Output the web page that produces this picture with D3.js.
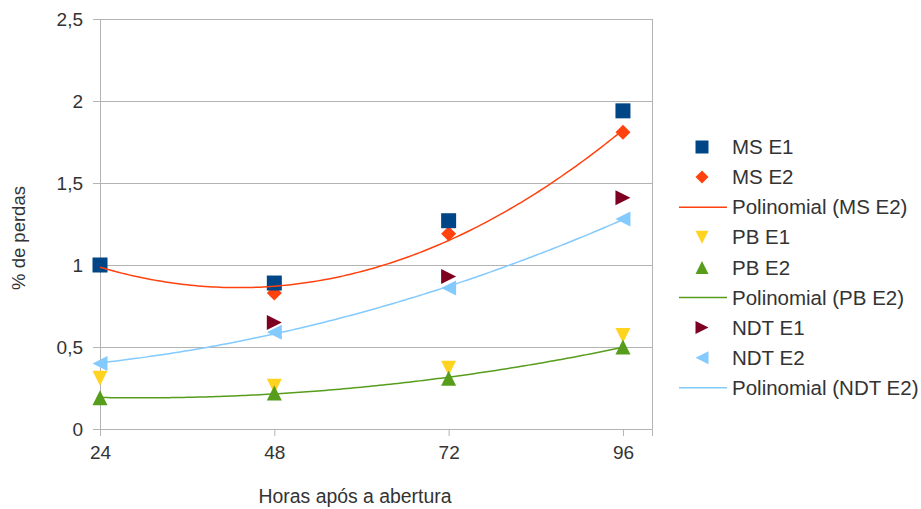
<!DOCTYPE html>
<html>
<head>
<meta charset="utf-8">
<script src="https://cdn.jsdelivr.net/npm/d3@7"></script>
<style>
  html, body { margin: 0; padding: 0; background: #fff; }
  svg { display: block; font-family: "Liberation Sans", Arial, sans-serif; }
</style>
</head>
<body>
<svg id="chart" width="921" height="509"></svg>
<script>
// Hours after opening (x values)
const hours = [24, 48, 72, 96];
const xTicks = [24, 48, 72, 96];
const yTicks = [0, 0.5, 1, 1.5, 2, 2.5];

// % losses per series (null = no measurement)
const msE1  = [1.00, 0.89, 1.27, 1.94];
const msE2  = [1.00, 0.83, 1.19, 1.81];
const pbE1  = [0.31, 0.26, 0.37, 0.57];
const pbE2  = [0.19, 0.22, 0.31, 0.50];
const ndtE1 = [null, 0.65, 0.93, 1.41];
const ndtE2 = [0.40, 0.59, 0.86, 1.28];

const seriesNames = ["MS E1", "MS E2", "PB E1", "PB E2", "NDT E1", "NDT E2"];
const seriesValues = [msE1, msE2, pbE1, pbE2, ndtE1, ndtE2];
const seriesShapes = ["square", "diamond", "down", "up", "right", "left"];
const seriesColors = ["#004586", "#ff420e", "#ffd320", "#579d1c", "#7e0021", "#83caff"];
// Painting order of the point series (MS E1 sits above MS E2)
const drawOrder = [1, 0, 2, 3, 4, 5];

// Second-order polynomial trend lines fitted to the E2 series
const trendSeries = [1, 3, 5];
const trendLabels = ["Polinomial (MS E2)", "Polinomial (PB E2)", "Polinomial (NDT E2)"];

const svg = d3.select("#chart");
const plot = { left: 100, right: 652, top: 19, bottom: 429 };

const x = d3.scaleLinear().domain([24, 100]).range([plot.left, plot.right]);
const y = d3.scaleLinear().domain([0, 2.5]).range([plot.bottom, plot.top]);

const ptBR = d3.formatLocale({ decimal: ",", thousands: ".", grouping: [3], currency: ["", ""] });
const fmt = ptBR.format("~g");

const gridColor = "#b3b3b3";
const textColor = "#333333";

// Horizontal gridlines
svg.append("g")
  .selectAll("line")
  .data(yTicks)
  .join("line")
  .attr("x1", plot.left).attr("x2", plot.right)
  .attr("y1", d => y(d)).attr("y2", d => y(d))
  .attr("stroke", gridColor).attr("stroke-width", 1)
  .attr("shape-rendering", "crispEdges");

// Right border of the plot area
svg.append("line")
  .attr("x1", plot.right).attr("x2", plot.right)
  .attr("y1", plot.top).attr("y2", plot.bottom)
  .attr("stroke", gridColor).attr("shape-rendering", "crispEdges");

// Y axis
const yAxis = svg.append("g")
  .attr("transform", `translate(${plot.left},0)`)
  .call(d3.axisLeft(y).tickValues(yTicks).tickFormat(fmt).tickSize(7).tickPadding(10));
yAxis.select(".domain").attr("stroke", gridColor);
yAxis.selectAll(".tick line").attr("stroke", gridColor);
yAxis.selectAll(".tick text")
  .attr("fill", textColor).attr("font-size", 19)
  .attr("font-family", "Liberation Sans, Arial, sans-serif");

// X axis
const xAxis = svg.append("g")
  .attr("transform", `translate(0,${plot.bottom})`)
  .call(d3.axisBottom(x).tickValues(xTicks).tickFormat(d3.format("d")).tickSize(7).tickPadding(10));
xAxis.select(".domain").attr("stroke", gridColor);
xAxis.selectAll(".tick line").attr("stroke", gridColor);
xAxis.selectAll(".tick text")
  .attr("fill", textColor).attr("font-size", 19)
  .attr("font-family", "Liberation Sans, Arial, sans-serif");

// Axis titles
svg.append("text")
  .attr("x", 355).attr("y", 503)
  .attr("text-anchor", "middle")
  .attr("font-size", 19.4).attr("fill", textColor)
  .text("Horas após a abertura");

svg.append("text")
  .attr("transform", "translate(25,238) rotate(-90)")
  .attr("text-anchor", "middle")
  .attr("font-size", 18.5).attr("fill", textColor)
  .text("% de perdas");

// Marker shapes centred on (0,0), half-size h
function markerPath(shape, h) {
  switch (shape) {
    case "square":  return `M${-h},${-h}H${h}V${h}H${-h}Z`;
    case "diamond": return `M0,${-h}L${h},0L0,${h}L${-h},0Z`;
    case "down":    return `M${-h},${-h}L${h},${-h}L0,${h}Z`;
    case "up":      return `M${-h},${h}L${h},${h}L0,${-h}Z`;
    case "right":   return `M${-h},${-h}L${h},0L${-h},${h}Z`;
    case "left":    return `M${h},${-h}L${-h},0L${h},${h}Z`;
  }
}

// Data points
drawOrder.forEach(i => {
  const vals = seriesValues[i];
  svg.append("g")
    .selectAll("path")
    .data(vals.map((v, j) => ({ x: hours[j], y: v })).filter(d => d.y != null))
    .join("path")
    .attr("transform", d => `translate(${x(d.x)},${y(d.y)})`)
    .attr("d", markerPath(seriesShapes[i], 7.5))
    .attr("fill", seriesColors[i]);
});

// Least-squares quadratic fit: returns coefficients [a, b, c] for a + b x + c x^2
function quadFit(xs, ys) {
  const S = k => d3.sum(xs, v => Math.pow(v, k));
  const T = k => d3.sum(xs, (v, i) => Math.pow(v, k) * ys[i]);
  const A = [[S(0), S(1), S(2)], [S(1), S(2), S(3)], [S(2), S(3), S(4)]];
  const B = [T(0), T(1), T(2)];
  for (let c = 0; c < 3; c++) {
    for (let r = c + 1; r < 3; r++) {
      const f = A[r][c] / A[c][c];
      for (let k = c; k < 3; k++) A[r][k] -= f * A[c][k];
      B[r] -= f * B[c];
    }
  }
  const sol = [0, 0, 0];
  for (let r = 2; r >= 0; r--) {
    let s = B[r];
    for (let k = r + 1; k < 3; k++) s -= A[r][k] * sol[k];
    sol[r] = s / A[r][r];
  }
  return sol;
}

const line = d3.line().x(d => x(d[0])).y(d => y(d[1]));
const xs = d3.range(hours[0], hours[hours.length - 1] + 0.001, 0.5);

trendSeries.forEach(si => {
  const [a, b, c] = quadFit(hours, seriesValues[si]);
  const pts = xs.map(v => [v, a + b * v + c * v * v]);
  svg.append("path")
    .attr("d", line(pts))
    .attr("fill", "none")
    .attr("stroke", seriesColors[si])
    .attr("stroke-width", 1.5);
});

// Legend
const legendItems = [
  { label: seriesNames[0], kind: "marker", s: 0 },
  { label: seriesNames[1], kind: "marker", s: 1 },
  { label: trendLabels[0], kind: "line", s: 1 },
  { label: seriesNames[2], kind: "marker", s: 2 },
  { label: seriesNames[3], kind: "marker", s: 3 },
  { label: trendLabels[1], kind: "line", s: 3 },
  { label: seriesNames[4], kind: "marker", s: 4 },
  { label: seriesNames[5], kind: "marker", s: 5 },
  { label: trendLabels[2], kind: "line", s: 5 }
];

const legend = svg.append("g").attr("transform", "translate(0,147)");
const rows = legend.selectAll("g")
  .data(legendItems)
  .join("g")
  .attr("transform", (d, i) => `translate(0,${i * 30.1})`);

rows.filter(d => d.kind === "marker")
  .append("path")
  .attr("transform", "translate(702,0)")
  .attr("d", d => markerPath(seriesShapes[d.s], 6.5))
  .attr("fill", d => seriesColors[d.s]);

rows.filter(d => d.kind === "line")
  .append("line")
  .attr("x1", 679).attr("x2", 727)
  .attr("y1", 0).attr("y2", 0)
  .attr("stroke", d => seriesColors[d.s])
  .attr("stroke-width", 1.5);

rows.append("text")
  .attr("x", 732).attr("y", 0)
  .attr("dy", "0.35em")
  .attr("font-size", 20.5)
  .attr("fill", textColor)
  .text(d => d.label);
</script>
</body>
</html>
